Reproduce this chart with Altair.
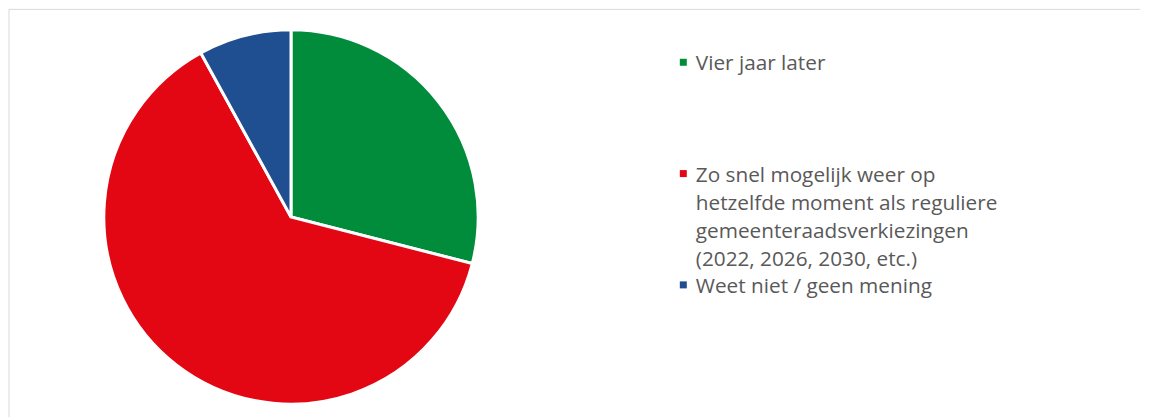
import altair as alt
import pandas as pd

categories = ["Vier jaar later",
              "Zo snel mogelijk weer op hetzelfde moment als reguliere gemeenteraadsverkiezingen (2022, 2026, 2030, etc.)",
              "Weet niet / geen mening"]
legend_labels = ["Vier jaar later",
                 "Zo snel mogelijk weer op|hetzelfde moment als reguliere|gemeenteraadsverkiezingen|(2022, 2026, 2030, etc.)",
                 "Weet niet / geen mening"]
shares = [29, 63, 8]
order_idx = [0, 1, 2]
colors = ["#008C3A", "#E30613", "#1F4E91"]

df = pd.DataFrame({"cat": categories, "label": legend_labels,
                   "share": shares, "idx": order_idx})

W, H = 1133, 401
color_scale = alt.Scale(domain=categories, range=colors)

base = alt.Chart(df)

pie = base.mark_arc(outerRadius=187.5, stroke="white", strokeWidth=3).encode(
    theta=alt.Theta("share:Q", stack=True),
    order=alt.Order("idx:Q"),
    color=alt.Color("cat:N", scale=color_scale, legend=None),
    x=alt.value(282.5),
    y=alt.value(208),
)

ypos = alt.Y("cat:N", scale=alt.Scale(type="point", domain=categories, range=[53, 276], padding=0), axis=None)

swatch = base.mark_square(size=49, opacity=1).encode(
    y=ypos,
    x=alt.value(675.5),
    color=alt.Color("cat:N", scale=color_scale, legend=None),
)

text = base.mark_text(align="left", baseline="top", font="Open Sans", fontSize=20.8,
                      color="#595959", lineBreak="|", lineHeight=28.3, dy=-8).encode(
    y=ypos,
    x=alt.value(688),
    text="label:N",
)

frame_top = alt.Chart(pd.DataFrame({"k": [0]})).mark_rule(color="#d9d9d9", strokeWidth=1).encode(
    x=alt.value(0), x2=alt.value(W), y=alt.value(0))
frame_left = alt.Chart(pd.DataFrame({"k": [0]})).mark_rule(color="#d9d9d9", strokeWidth=1).encode(
    x=alt.value(0), y=alt.value(0), y2=alt.value(H + 20))

chart = alt.layer(frame_top, frame_left, pie, swatch, text).properties(
    width=W, height=H, padding=0
).configure_view(stroke=None)

chart.save("out.html", embed_options={"renderer": "svg", "actions": False})
